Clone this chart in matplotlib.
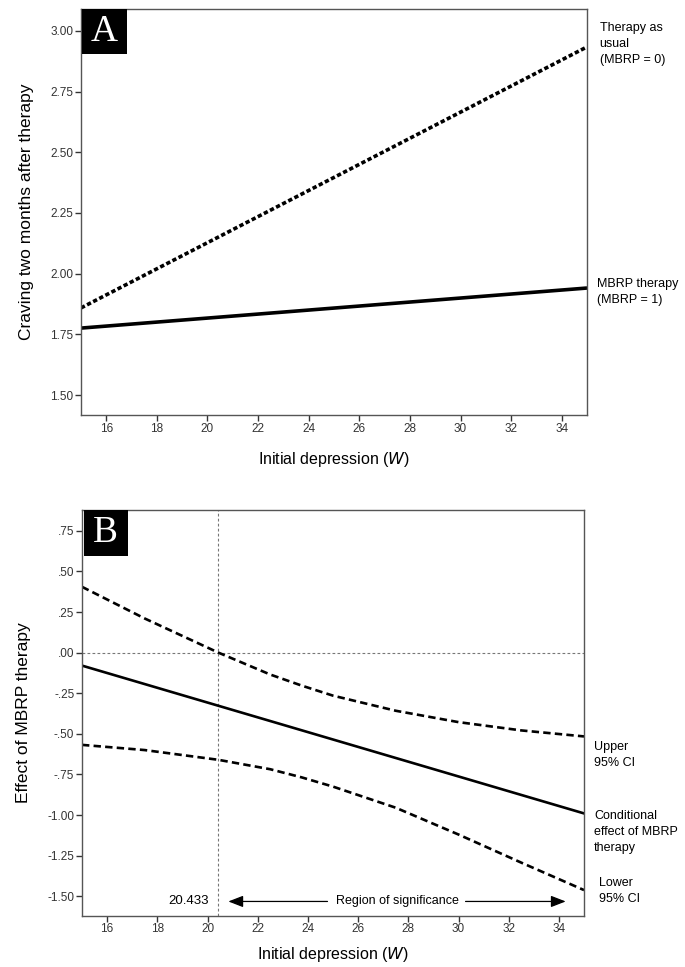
import matplotlib as mpl
mpl.use('Agg')
import matplotlib.pyplot as plt
from matplotlib.patches import Rectangle

plt.rcParams['font.family'] = ['Liberation Sans Narrow', 'Liberation Sans', 'DejaVu Sans']

# ---- panel A data: craving by initial depression, per group
w_a = [15, 35]
tau = [1.859, 2.934]     # therapy as usual (MBRP = 0)
mbrp = [1.776, 1.941]    # MBRP therapy (MBRP = 1)
yticks_a = [1.50, 1.75, 2.00, 2.25, 2.50, 2.75, 3.00]
xticks = [16, 18, 20, 22, 24, 26, 28, 30, 32, 34]

# ---- panel B data: conditional effect and 95% CI
w_b = [15, 17.5, 20.433, 22.5, 23.75, 25, 27.5, 30, 32.5, 35]
upper = [0.405, 0.21, 0.00, -0.135, -0.203, -0.265, -0.358, -0.428, -0.479, -0.516]
lower = [-0.568, -0.60, -0.66, -0.718, -0.768, -0.825, -0.955, -1.12, -1.293, -1.462]
w_eff = [15, 35]
effect = [-0.08, -0.99]
jn_point = 20.433
yticks_b = [-1.50, -1.25, -1.00, -0.75, -0.50, -0.25, 0.00, 0.25, 0.50, 0.75]
ytlabels_b = ['-1.50', '-1.25', '-1.00', '-.75', '-.50', '-.25', '.00', '.25', '.50', '.75']

fig = plt.figure(figsize=(6.85, 9.67), dpi=100)
axA = fig.add_axes([0.1182, 0.5708, 0.7388, 0.4199])
axB = fig.add_axes([0.1197, 0.0530, 0.7329, 0.4196])

def style(ax):
    for s in ax.spines.values():
        s.set_color('#555555')
        s.set_linewidth(1.0)
    ax.tick_params(direction='out', length=4, width=1.0, color='#333333',
                   labelsize=8.5, labelcolor='#333333', pad=1.5)
    ax.set_xticks(xticks)
    ax.set_xlim(15, 35)

def panel_tag(ax, letter, w, h):
    ax.add_patch(Rectangle((0.003, 1 - h), w, h, transform=ax.transAxes,
                           fc='black', ec='none', zorder=5))
    ax.text(0.003 + w / 2, 1 - h / 2, letter, transform=ax.transAxes,
            ha='center', va='center', color='white', fontsize=27,
            family='Liberation Serif', zorder=6)

# ---- panel A
axA.plot(w_a, tau, color='black', lw=2.6, linestyle=(0, (1.2, 0.7)))
axA.plot(w_a, mbrp, color='black', lw=2.6, solid_capstyle='butt')
axA.set_ylim(1.418, 3.09)
axA.set_yticks(yticks_a)
axA.set_yticklabels(['%.2f' % v for v in yticks_a])
style(axA)
panel_tag(axA, 'A', 0.087, 0.111)
axA.set_ylabel('Craving two months after therapy', fontsize=12.5,
               family='Liberation Sans', labelpad=12)
axA.set_xlabel('Initial depression ($\\mathit{W}$)', fontsize=11.5, labelpad=11)
axA.text(1.025, 0.968, 'Therapy as\nusual\n(MBRP = 0)', transform=axA.transAxes,
         ha='left', va='top', fontsize=9, linespacing=1.45)
axA.text(1.02, 0.338, 'MBRP therapy\n(MBRP = 1)', transform=axA.transAxes,
         ha='left', va='top', fontsize=9, linespacing=1.45)

# ---- panel B
axB.axhline(0, color='#777777', lw=0.8, linestyle=(0, (2.5, 2)))
axB.axvline(jn_point, color='#777777', lw=0.8, linestyle=(0, (2.5, 2)))
axB.plot(w_b, upper, color='black', lw=1.9, linestyle=(0, (2.8, 1.6)))
axB.plot(w_b, lower, color='black', lw=1.9, linestyle=(0, (2.8, 1.6)))
axB.plot(w_eff, effect, color='black', lw=1.9)
axB.set_ylim(-1.62, 0.878)
axB.set_yticks(yticks_b)
axB.set_yticklabels(ytlabels_b)
style(axB)
panel_tag(axB, 'B', 0.088, 0.113)
axB.set_ylabel('Effect of MBRP therapy', fontsize=12.5,
               family='Liberation Sans', labelpad=12)
axB.set_xlabel('Initial depression ($\\mathit{W}$)', fontsize=11.5, labelpad=7)

axB.text(jn_point - 0.4, -1.532, '20.433', ha='right', va='center', fontsize=9.5)
axB.text(27.57, -1.532, 'Region of significance', ha='center', va='center', fontsize=9)
arrow_style = dict(arrowstyle='-|>,head_length=0.9,head_width=0.35',
                   color='black', lw=0.9, shrinkA=0, shrinkB=0)
axB.annotate('', xy=(20.83, -1.532), xytext=(24.78, -1.532), arrowprops=arrow_style)
axB.annotate('', xy=(34.27, -1.532), xytext=(30.28, -1.532), arrowprops=arrow_style)

axB.text(1.02, 0.43, 'Upper\n95% CI', transform=axB.transAxes,
         ha='left', va='top', fontsize=9, linespacing=1.45)
axB.text(1.02, 0.26, 'Conditional\neffect of MBRP\ntherapy', transform=axB.transAxes,
         ha='left', va='top', fontsize=9, linespacing=1.45)
axB.text(1.03, 0.095, 'Lower\n95% CI', transform=axB.transAxes,
         ha='left', va='top', fontsize=9, linespacing=1.45)

fig.savefig('out.png', dpi=100)
